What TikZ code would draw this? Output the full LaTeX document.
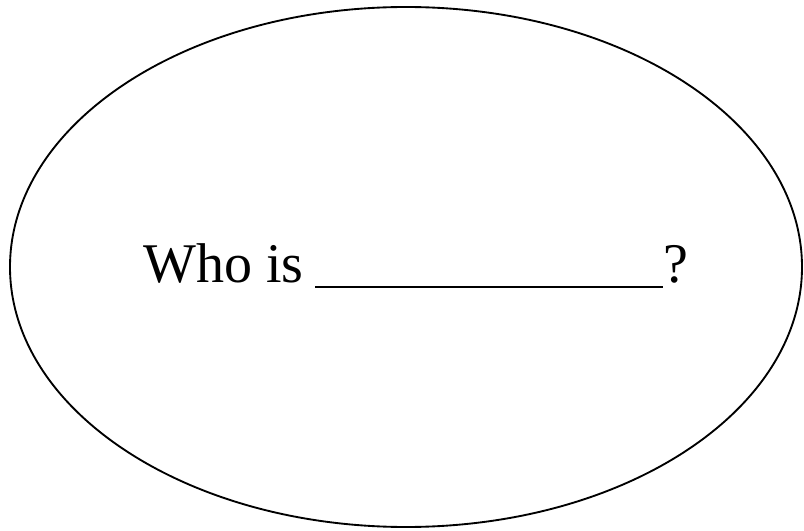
\documentclass[tikz,border=0pt]{standalone}
\usepackage{fontspec}
\setmainfont{Liberation Serif}
\begin{document}
\begin{tikzpicture}[x=0.75pt,y=-0.75pt,
  word/.style={inner sep=0pt,font=\fontsize{42}{48}\selectfont},
  blankline/.style={line width=2.2pt}]
  % Fix the page size
  \useasboundingbox (0,0) rectangle (804,531);

  % Draw the outer ellipse
  \draw[line width=1.4pt] (406,267) ellipse [x radius=396, y radius=260];

  % Question text with a blank to fill in
  \node[word,anchor=base west] (who) at (143,283) {Who is};
  \coordinate (blankL) at (315,287);
  \coordinate (blankR) at (663,287);
  \draw[blankline] (blankL) -- (blankR);
  \node[word,anchor=base west] (qmark) at (blankR |- who.base) {?};

\end{tikzpicture}
\end{document}
